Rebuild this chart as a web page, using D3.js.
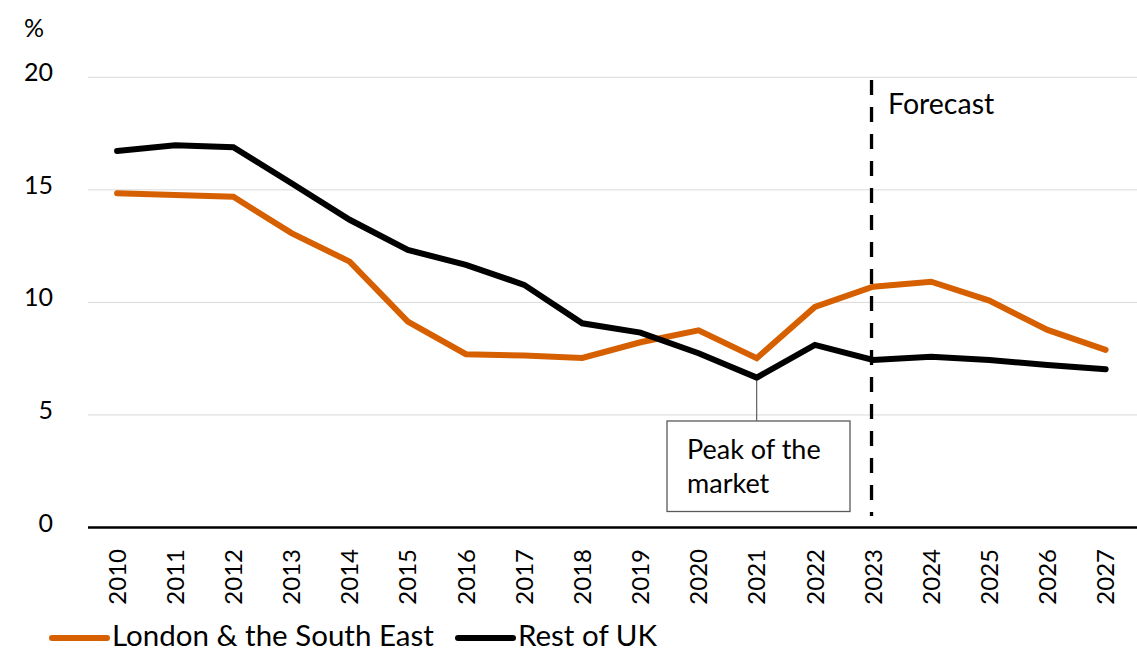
<!DOCTYPE html>
<html>
<head>
<meta charset="utf-8">
<script src="https://cdn.jsdelivr.net/npm/d3@7"></script>
<style>
  body { margin: 0; background: white; }
  svg { display: block; font-family: Lato, "Open Sans", sans-serif; }
</style>
</head>
<body>
<svg width="1137" height="651"></svg>
<script>
var years = ["2010", "2011", "2012", "2013", "2014", "2015", "2016", "2017", "2018",
             "2019", "2020", "2021", "2022", "2023", "2024", "2025", "2026", "2027"];
var london = [14.85, 14.77, 14.69, 13.08, 11.81, 9.15, 7.70, 7.64, 7.53,
              8.23, 8.76, 7.52, 9.8, 10.70, 10.92, 10.08, 8.78, 7.89];
var restOfUK = [16.73, 16.98, 16.89, 15.29, 13.67, 12.33, 11.67, 10.78, 9.07,
                8.66, 7.74, 6.66, 8.11, 7.44, 7.59, 7.44, 7.22, 7.03];
var yTicks = [0, 5, 10, 15, 20];
var forecastYear = "2023";
var peakYear = "2021";

var orange = "#d66000";
var svg = d3.select("svg");

var x = d3.scaleBand().domain(years).range([88, 1134.7]).padding(0);
var y = d3.scaleLinear().domain([0, 20]).range([527.5, 77.3]);
var cx = function (yr) { return x(yr) + x.bandwidth() / 2; };

// gridlines
svg.append("g").selectAll("line")
  .data(yTicks.filter(function (d) { return d > 0; }))
  .enter().append("line")
  .attr("x1", 88).attr("x2", 1137)
  .attr("y1", function (d) { return y(d); })
  .attr("y2", function (d) { return y(d); })
  .attr("stroke", "#d9d9d9").attr("stroke-width", 1);

// y tick labels
svg.append("g").selectAll("text")
  .data(yTicks)
  .enter().append("text")
  .attr("x", 53).attr("y", function (d) { return y(d) + 4; })
  .attr("text-anchor", "end")
  .attr("font-size", 25)
  .text(function (d) { return d; });

svg.append("text").attr("x", 24).attr("y", 37).attr("font-size", 25).text("%");

// x axis line
svg.append("line")
  .attr("x1", 88).attr("x2", 1137)
  .attr("y1", y(0)).attr("y2", y(0))
  .attr("stroke", "black").attr("stroke-width", 2.5);

// x tick labels (rotated)
svg.append("g").selectAll("text")
  .data(years)
  .enter().append("text")
  .attr("transform", function (d) { return "translate(" + cx(d) + ",549) rotate(-90)"; })
  .attr("text-anchor", "end")
  .attr("dy", "0.36em")
  .attr("font-size", 24)
  .text(function (d) { return d; });

var line = d3.line()
  .x(function (d, i) { return cx(years[i]); })
  .y(function (d) { return y(d); });

svg.append("path").datum(london)
  .attr("d", line).attr("fill", "none")
  .attr("stroke", orange).attr("stroke-width", 6).attr("stroke-linecap", "round");

svg.append("path").datum(restOfUK)
  .attr("d", line).attr("fill", "none")
  .attr("stroke", "black").attr("stroke-width", 6).attr("stroke-linecap", "round");

// forecast divider
svg.append("line")
  .attr("x1", cx(forecastYear) - 1.5).attr("x2", cx(forecastYear) - 1.5)
  .attr("y1", 80).attr("y2", 516)
  .attr("stroke", "black").attr("stroke-width", 3.3)
  .attr("stroke-dasharray", "15,12");

svg.append("text").attr("x", 888).attr("y", 114).attr("font-size", 28.5).text("Forecast");

// peak annotation
var peakIdx = years.indexOf(peakYear);
svg.append("line")
  .attr("x1", cx(peakYear)).attr("x2", cx(peakYear))
  .attr("y1", y(restOfUK[peakIdx]) + 3).attr("y2", 421)
  .attr("stroke", "#404040").attr("stroke-width", 1);
svg.append("rect")
  .attr("x", 667).attr("y", 421).attr("width", 183).attr("height", 90.5)
  .attr("fill", "white").attr("stroke", "#595959").attr("stroke-width", 1.3);
svg.append("text").attr("x", 687).attr("y", 459).attr("font-size", 27).text("Peak of the");
svg.append("text").attr("x", 687).attr("y", 493).attr("font-size", 27).text("market");

// legend
var legend = [
  { label: "London & the South East", color: orange, x: 52 },
  { label: "Rest of UK", color: "black", x: 458 }
];
var lg = svg.append("g").selectAll("g").data(legend).enter().append("g");
lg.append("line")
  .attr("x1", function (d) { return d.x; }).attr("x2", function (d) { return d.x + 55; })
  .attr("y1", 638).attr("y2", 638)
  .attr("stroke", function (d) { return d.color; })
  .attr("stroke-width", 6).attr("stroke-linecap", "round");
lg.append("text")
  .attr("x", function (d) { return d.x + 60; }).attr("y", 646)
  .attr("font-size", 29.5)
  .text(function (d) { return d.label; });
</script>
</body>
</html>
